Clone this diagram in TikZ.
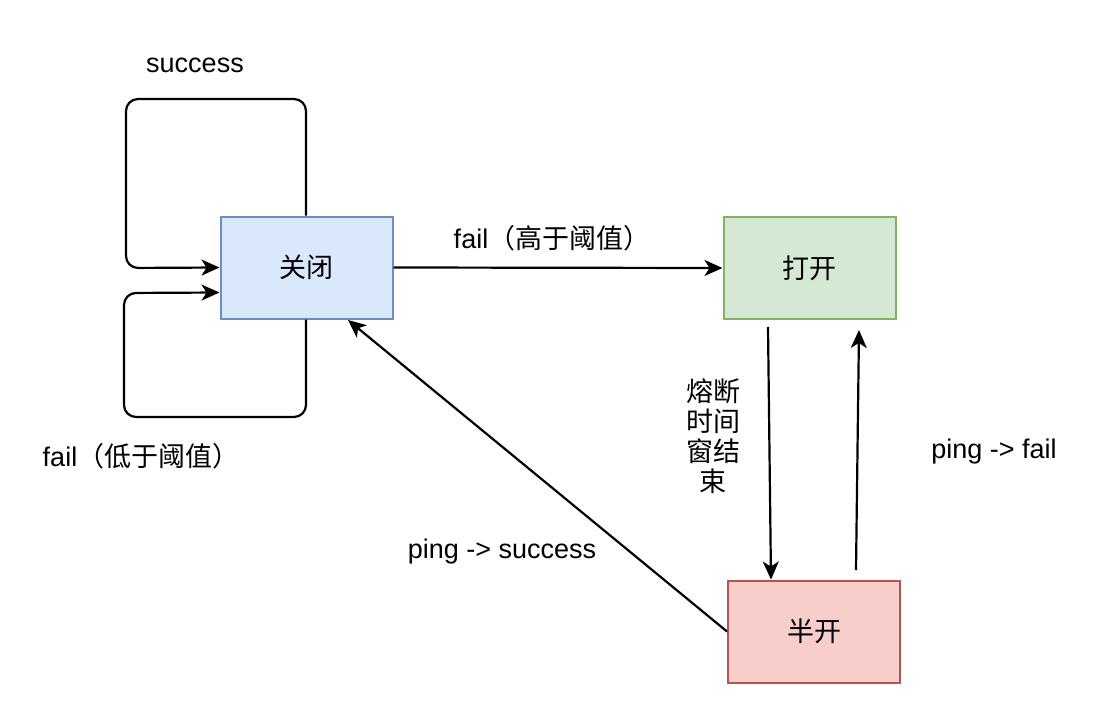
\documentclass[tikz,border=0pt]{standalone}
\usepackage{fontspec}
\setmainfont{Liberation Sans}
\newfontfamily\cjk{Noto Sans CJK SC}
\usetikzlibrary{arrows.meta}
\definecolor{bfill}{HTML}{DAE8FC}
\definecolor{bline}{HTML}{6C8EBF}
\definecolor{gfill}{HTML}{D5E8D4}
\definecolor{gline}{HTML}{82B366}
\definecolor{rfill}{HTML}{F8CECC}
\definecolor{rline}{HTML}{B85450}
\tikzset{
  statebox/.style={rectangle, line width=2pt, minimum width=172pt, minimum height=102pt, inner sep=0pt, font=\fontsize{27}{29}\selectfont\cjk},
  conn/.style={line width=2.2pt, -{Stealth[length=18pt,width=16pt,inset=5pt]}},
  lbl/.style={inner sep=0pt, anchor=base, font=\fontsize{27}{28}\selectfont},
}
\begin{document}
\begin{tikzpicture}[x=1pt,y=-1pt]
\useasboundingbox (0,0) rectangle (1118,714);
\node[statebox, fill=bfill, draw=bline] (closed) at (306.5,267.5) {关闭};
\node[statebox, fill=gfill, draw=gline] (open) at (809.5,268) {打开};
\node[statebox, fill=rfill, draw=rline] (half) at (814,631.5) {半开};

\coordinate (ux) at (306,0);
\coordinate (ut) at (306,99);
\coordinate (ul) at (126,99);
\coordinate (ulb) at (126,268);
\coordinate (lb) at (306,417);
\coordinate (ll) at (124,417);
\coordinate (llt) at (124,293);
\coordinate (ohs) at (768,327);
\coordinate (ohe) at (771,0);
\coordinate (hos) at (856,570);
\coordinate (hoe) at (859,330);
\coordinate (hce) at (348,320);

\draw[conn, rounded corners=12pt] (ux |- closed.north) -- (ut) -- (ul) -- (ulb) -- (closed.west);
\draw[conn, rounded corners=12pt] (ux |- closed.south) -- (lb) -- (ll) -- (llt) -- ([yshift=-25pt]closed.west);
\draw[conn] (closed.east) -- (open.west);
\draw[conn] (ohs) -- (ohe |- half.north);
\draw[conn] (hos) -- (hoe);
\draw[conn] (half.west) -- (hce);

\node[lbl] (lsucc) at (195,73) {success};
\node[lbl] (lfaillow) at (141,466) {fail{\cjk（低于阈值）}};
\node[lbl] (lfailhigh) at (552,248) {fail{\cjk（高于阈值）}};
\node[lbl] (lpingsucc) at (502,558) {ping -> success};
\node[lbl] (lpingfail) at (994,458) {ping -> fail};
\node[inner sep=0pt, align=center, font=\fontsize{27}{30}\selectfont\cjk] (lwin) at (713,436) {熔断\\时间\\窗结\\束};
\end{tikzpicture}
\end{document}
